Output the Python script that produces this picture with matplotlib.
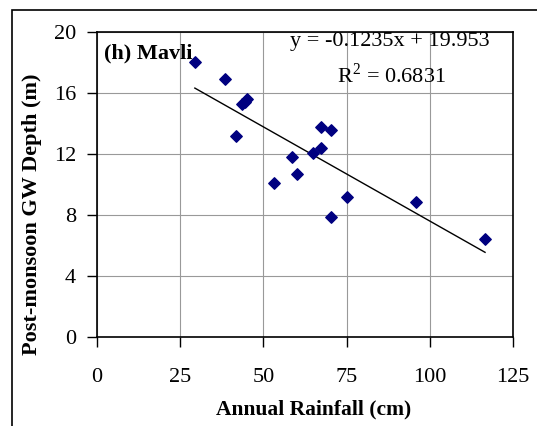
import numpy as np
import matplotlib
matplotlib.use('Agg')
from matplotlib import pyplot as plt
from matplotlib.patches import Rectangle

# annual rainfall (cm) vs post-monsoon groundwater depth (m), Mavli
rainfall = [29.4, 38.5, 41.8, 43.5, 44.5, 45.2, 53.3, 58.5, 60.2,
            64.8, 67.4, 67.4, 70.4, 70.4, 75.0, 96.0, 116.6]
gw_depth = [18.05, 16.9, 13.2, 15.3, 15.4, 15.6, 10.1, 11.8, 10.7,
            12.05, 13.8, 12.4, 13.6, 7.9, 9.15, 8.87, 6.4]
slope = -0.1235
intercept = 19.953
r2 = 0.6831
x_ticks = [0, 25, 50, 75, 100, 125]
y_ticks = [0, 4, 8, 12, 16, 20]

plt.rcParams['font.family'] = ['Liberation Serif', 'DejaVu Serif']
plt.rcParams['mathtext.fontset'] = 'custom'
plt.rcParams['mathtext.rm'] = 'Liberation Serif'

fig = plt.figure(figsize=(5.37, 4.26), dpi=100)
ax = fig.add_axes([97/537, 1-337/426, (513-97)/537, (337-32)/426])

ax.scatter(rainfall, gw_depth, marker='D', s=34, color='#000080', zorder=3)
xfit = np.array([min(rainfall), max(rainfall)])
ax.plot(xfit, slope*xfit + intercept, color='k', linewidth=1, zorder=2)

ax.set_xlim(0, 125)
ax.set_ylim(0, 20)
ax.set_xticks(x_ticks)
ax.set_yticks(y_ticks)
ax.grid(True, color='#999999', linewidth=0.8)
ax.set_axisbelow(True)
ax.tick_params(direction='out', length=7, width=1, labelsize=16, pad=8)
ax.tick_params(axis='x', pad=15)
for s in ax.spines.values():
    s.set_linewidth(1.2)

ax.set_xlabel('Annual Rainfall (cm)', fontsize=15.5, fontweight='bold')
ax.set_ylabel('Post-monsoon GW Depth (m)', fontsize=16, fontweight='bold')
ax.xaxis.set_label_coords(0.52, -0.205)
ax.yaxis.set_label_coords(-0.132, 0.403)

ax.text(0.018, 0.931, '(h) Mavli', transform=ax.transAxes, fontsize=16,
        fontweight='bold', va='center', ha='left')
ax.text(0.705, 0.968, 'y = %.4fx + %.3f' % (slope, intercept), transform=ax.transAxes,
        fontsize=16, va='center', ha='center')
ax.text(0.707, 0.859, 'R$^{2}$ = %.4f' % r2, transform=ax.transAxes,
        fontsize=16, va='center', ha='center')

# chart area border running off the picture
fig.patches.append(Rectangle((12/537, -0.1), 1.2, 1-10/426+0.1, transform=fig.transFigure,
                             fill=False, edgecolor='k', linewidth=1.2))

fig.savefig('out.png', dpi=100)
